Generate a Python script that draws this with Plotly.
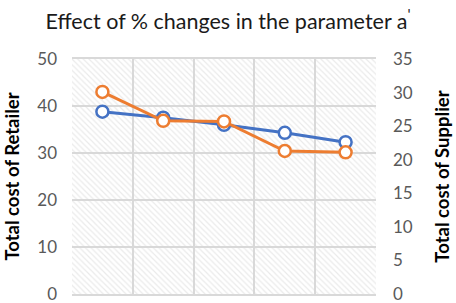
import plotly.graph_objects as go

categories = ["-20%", "-10%", "0%", "+10%", "+20%"]
retailer_cost = [38.8, 37.5, 36.0, 34.3, 32.3]
supplier_cost = [30.1, 25.8, 25.7, 21.3, 21.1]
left_ticks = [0, 10, 20, 30, 40, 50]
right_ticks = [0, 5, 10, 15, 20, 25, 30, 35]

BLUE = "#4472C4"
ORANGE = "#ED7D31"
GRID = "#D9D9D9"
TICK = "#595959"
FONT = "Lato, 'Open Sans', sans-serif"
CLEAR = "rgba(0,0,0,0)"

fig = go.Figure()

# hatched plot-area background
fig.add_trace(go.Bar(
    x=categories, y=[max(left_ticks)] * len(categories), width=1,
    marker=dict(color=CLEAR, line=dict(width=0),
                pattern=dict(shape="\\", fgcolor="#D6D6D6", bgcolor=CLEAR,
                             size=4, solidity=0.3)),
    hoverinfo="skip", showlegend=False,
))

fig.add_trace(go.Scatter(
    x=categories, y=retailer_cost, mode="lines+markers", name="Retailer",
    line=dict(color=BLUE, width=3),
    marker=dict(symbol="circle", size=12, color="white", line=dict(color=BLUE, width=2.5)),
    showlegend=False,
))
fig.add_trace(go.Scatter(
    x=categories, y=supplier_cost, mode="lines+markers", name="Supplier", yaxis="y2",
    line=dict(color=ORANGE, width=3),
    marker=dict(symbol="circle", size=12, color="white", line=dict(color=ORANGE, width=2.5)),
    showlegend=False,
))

fig.update_layout(
    width=456, height=303,
    margin=dict(l=72, r=80, t=59, b=9, autoexpand=False),
    paper_bgcolor="white", plot_bgcolor="white",
    font=dict(family=FONT),
    title=dict(text="Effect of % changes in the parameter a<sup>'</sup>",
               x=0.5, xanchor="center", y=0.93, yanchor="middle",
               font=dict(size=21.5, color="#1a1a1a", family=FONT)),
    xaxis=dict(type="category", range=[-0.5, 4.5], showticklabels=False,
               tickson="boundaries", showgrid=True, gridcolor=GRID, gridwidth=2,
               ticks="", showline=True, linecolor=GRID, linewidth=2, mirror=True,
               zeroline=False, automargin=False),
    yaxis=dict(range=[0, 50], tickvals=left_ticks, showgrid=True, gridcolor=GRID,
               gridwidth=2, zeroline=False, ticks="", ticklabelstandoff=14,
               automargin=False, ticklabeloverflow="allow",
               tickfont=dict(size=17, color=TICK, family=FONT),
               title=dict(text="<b>Total cost of Retailer</b>", standoff=12,
                          font=dict(size=18.5, color="black", family=FONT))),
    yaxis2=dict(range=[0, 35], tickvals=right_ticks, overlaying="y", side="right",
                showgrid=False, zeroline=False, ticks="", ticklabelstandoff=16,
                automargin=False, ticklabeloverflow="allow",
                tickfont=dict(size=17, color=TICK, family=FONT),
                title=dict(text="<b>Total cost of Supplier</b>", standoff=24,
                           font=dict(size=18.5, color="black", family=FONT))),
    bargap=0,
)

fig.write_html("out.html", config={"displayModeBar": False},
               post_script="document.body.style.margin='0';document.body.style.padding='0';")
